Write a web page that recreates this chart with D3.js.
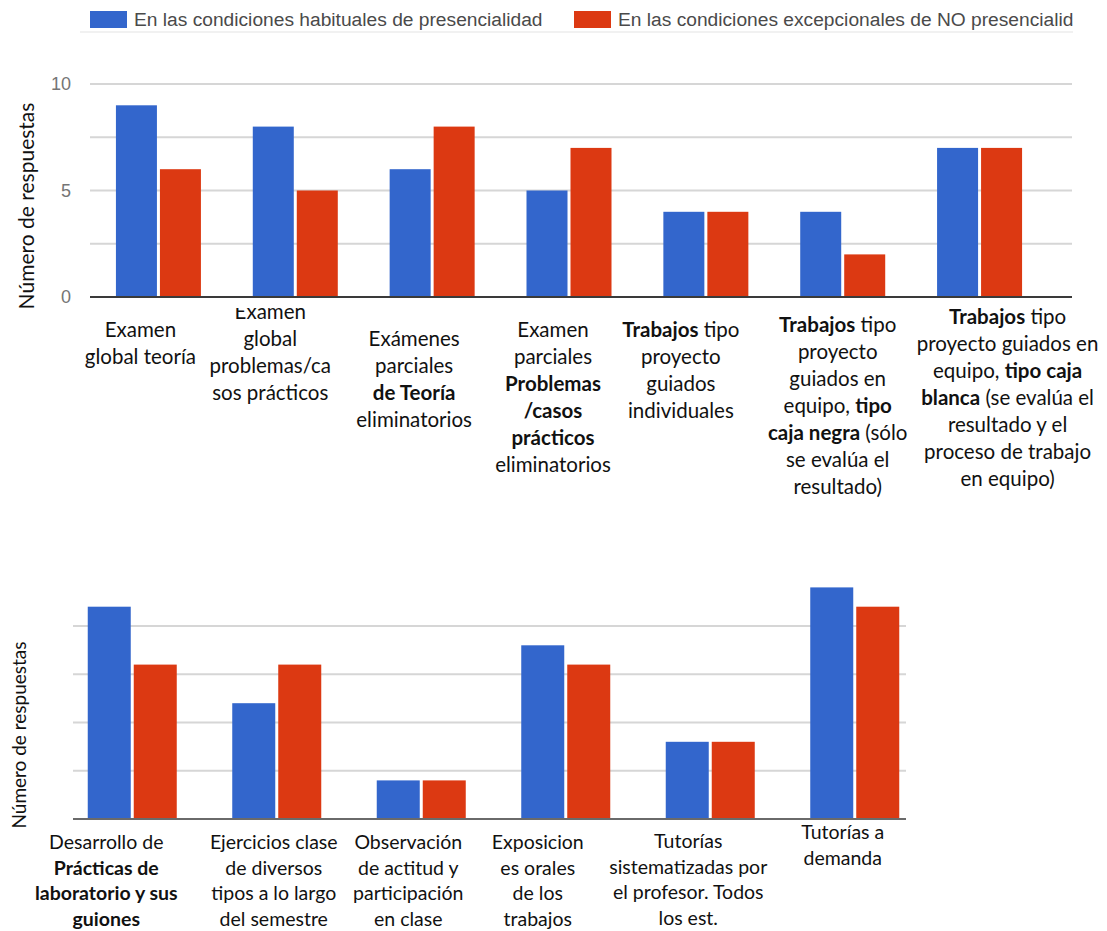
<!DOCTYPE html>
<html>
<head>
<meta charset="utf-8">
<script src="https://cdn.jsdelivr.net/npm/d3@7"></script>
<style>
  body { margin: 0; background: #fff; }
  svg { display: block; }
</style>
</head>
<body>
<svg width="1107" height="931"></svg>
<script>
// data
var seriesNames = ["En las condiciones habituales de presencialidad",
                   "En las condiciones excepcionales de NO presencialid"];
var seriesColors = ["#3366cc", "#dc3912"];

// top chart: categories as wrapped lines, **bold** parts
var topCategories = [
  ["Examen", "global teoría"],
  ["Examen", "global", "problemas/ca", "sos prácticos"],
  ["Exámenes", "parciales", "**de Teoría**", "eliminatorios"],
  ["Examen", "parciales", "**Problemas**", "**/casos**", "**prácticos**", "eliminatorios"],
  ["**Trabajos** tipo", "proyecto", "guiados", "individuales"],
  ["**Trabajos** tipo", "proyecto", "guiados en", "equipo, **tipo**", "**caja negra** (sólo", "se evalúa el", "resultado)"],
  ["**Trabajos** tipo", "proyecto guiados en", "equipo, **tipo caja**", "**blanca** (se evalúa el", "resultado y el", "proceso de trabajo", "en equipo)"]
];
var topHabitual = [9, 8, 6, 5, 4, 4, 7];
var topNoPresencial = [6, 5, 8, 7, 4, 2, 7];
var topTicks = [0, 5, 10];

// bottom chart
var bottomCategories = [
  ["Desarrollo de", "**Prácticas de**", "**laboratorio y sus**", "**guiones**"],
  ["Ejercicios clase", "de diversos", "tipos a lo largo", "del semestre"],
  ["Observación", "de actitud y", "participación", "en clase"],
  ["Exposicion", "es orales", "de los", "trabajos"],
  ["Tutorías", "sistematizadas por", "el profesor. Todos", "los est."],
  ["Tutorías a", "demanda"]
];
var bottomHabitual = [11, 6, 2, 9, 4, 12];
var bottomNoPresencial = [8, 8, 2, 8, 4, 11];

var gridValues = [2.5, 5, 7.5, 10];
var axisTitle = "Número de respuestas";

// label placement (offset from group centre, first baseline)
var topLabelDx = [-18, -25, -18, -16, -25, -5, 28];
var topLabelY = [337, 319, 346, 337, 337, 332, 324];
var bottomLabelDx = [-26, -3, -13, -28, -22, -12];
var bottomLabelY = [849, 849, 849, 849, 848, 839];

var svg = d3.select("svg");
var labelFont = "Lato, 'Open Sans', sans-serif";
var chartFont = "'Liberation Sans', Arial, sans-serif";

// write wrapped label with bold parts
function wrapLabel(g, lines, cx, y0, lh, size) {
  var t = g.append("text")
    .attr("text-anchor", "middle")
    .attr("font-family", labelFont)
    .attr("font-size", size)
    .attr("fill", "#111");
  lines.forEach(function(line, i) {
    var ts = t.append("tspan").attr("x", cx).attr("y", y0 + i * lh);
    line.split("**").forEach(function(seg, j) {
      if (seg === "") return;
      ts.append("tspan")
        .attr("font-weight", j % 2 ? "bold" : "normal")
        .text(seg);
    });
  });
}

function drawChart(opt) {
  var g = svg.append("g");
  var x = d3.scaleBand()
    .domain(d3.range(opt.categories.length))
    .range(opt.xRange);
  var sub = d3.scaleBand()
    .domain([0, 1])
    .range([-opt.groupW / 2, opt.groupW / 2])
    .paddingInner(opt.gap / (opt.groupW / 2 + opt.gap / 2));
  var y = d3.scaleLinear().domain([0, 10]).range(opt.yRange);

  // gridlines
  g.selectAll("line.grid")
    .data(gridValues)
    .join("line")
    .attr("class", "grid")
    .attr("x1", opt.gridX[0]).attr("x2", opt.gridX[1])
    .attr("y1", function(d) { return y(d); })
    .attr("y2", function(d) { return y(d); })
    .attr("stroke", "#d6d6d6")
    .attr("stroke-width", 2);

  // bars
  var rows = opt.categories.map(function(c, i) {
    return [opt.series[0][i], opt.series[1][i]];
  });
  var groups = g.selectAll("g.grp")
    .data(rows)
    .join("g")
    .attr("class", "grp")
    .attr("transform", function(d, i) {
      return "translate(" + (x(i) + x.bandwidth() / 2) + ",0)";
    });
  groups.selectAll("rect")
    .data(function(d) { return d; })
    .join("rect")
    .attr("x", function(d, j) { return sub(j); })
    .attr("width", sub.bandwidth())
    .attr("y", function(d) { return y(d); })
    .attr("height", function(d) { return y(0) - y(d); })
    .attr("fill", function(d, j) { return seriesColors[j]; });

  // baseline
  g.append("line")
    .attr("x1", opt.gridX[0]).attr("x2", opt.gridX[1])
    .attr("y1", y(0)).attr("y2", y(0))
    .attr("stroke", opt.baseColor)
    .attr("stroke-width", 2);

  // y tick labels
  if (opt.ticks) {
    var axis = d3.axisLeft(y).tickValues(opt.ticks).tickSize(0).tickPadding(0);
    var ax = g.append("g")
      .attr("transform", "translate(" + opt.tickX + ",0)")
      .call(axis);
    ax.select(".domain").remove();
    ax.selectAll("text")
      .attr("font-family", chartFont)
      .attr("font-size", 18)
      .attr("fill", "#757575");
  }

  // axis title
  g.append("text")
    .attr("transform", "translate(" + opt.titleX + "," + opt.titleY + ") rotate(-90)")
    .attr("text-anchor", "middle")
    .attr("font-family", labelFont)
    .attr("font-size", opt.titleSize)
    .attr("fill", "#111")
    .text(axisTitle);

  // category labels
  opt.categories.forEach(function(lines, i) {
    wrapLabel(g, lines, x(i) + x.bandwidth() / 2 + opt.labelDx[i], opt.labelY[i], opt.lineH, opt.labelSize);
  });
  return { g: g, x: x, y: y };
}

// legend
var legend = svg.append("g");
var legendX = [90, 574];
seriesNames.forEach(function(name, i) {
  legend.append("rect")
    .attr("x", legendX[i]).attr("y", 11)
    .attr("width", 37).attr("height", 17)
    .attr("fill", seriesColors[i]);
  legend.append("text")
    .attr("x", legendX[i] + 44).attr("y", 26)
    .attr("font-family", chartFont)
    .attr("font-size", 19.2)
    .attr("fill", "#4a4a4a")
    .text(name);
});
legend.append("line")
  .attr("x1", 80).attr("x2", 1073)
  .attr("y1", 32).attr("y2", 32)
  .attr("stroke", "#ececec").attr("stroke-width", 1.5);

var topChart = drawChart({
  categories: topCategories,
  series: [topHabitual, topNoPresencial],
  xRange: [90, 1048],
  groupW: 85, gap: 3,
  yRange: [297, 84],
  gridX: [90, 1072],
  baseColor: "#3a3a3a",
  ticks: topTicks, tickX: 71,
  titleX: 34, titleY: 206, titleSize: 21,
  labelDx: topLabelDx, labelY: topLabelY,
  lineH: 27, labelSize: 20.5
});

// the second label starts under the plot edge in the picture
topChart.g.append("rect")
  .attr("x", 200).attr("y", 299)
  .attr("width", 140).attr("height", 9)
  .attr("fill", "#fff");

drawChart({
  categories: bottomCategories,
  series: [bottomHabitual, bottomNoPresencial],
  xRange: [60, 927],
  groupW: 89, gap: 3,
  yRange: [819, 626],
  gridX: [73, 906],
  baseColor: "#6a6a6a",
  ticks: null,
  titleX: 26, titleY: 735, titleSize: 19,
  labelDx: bottomLabelDx, labelY: bottomLabelY,
  lineH: 25.5, labelSize: 19.5
});
</script>
</body>
</html>
